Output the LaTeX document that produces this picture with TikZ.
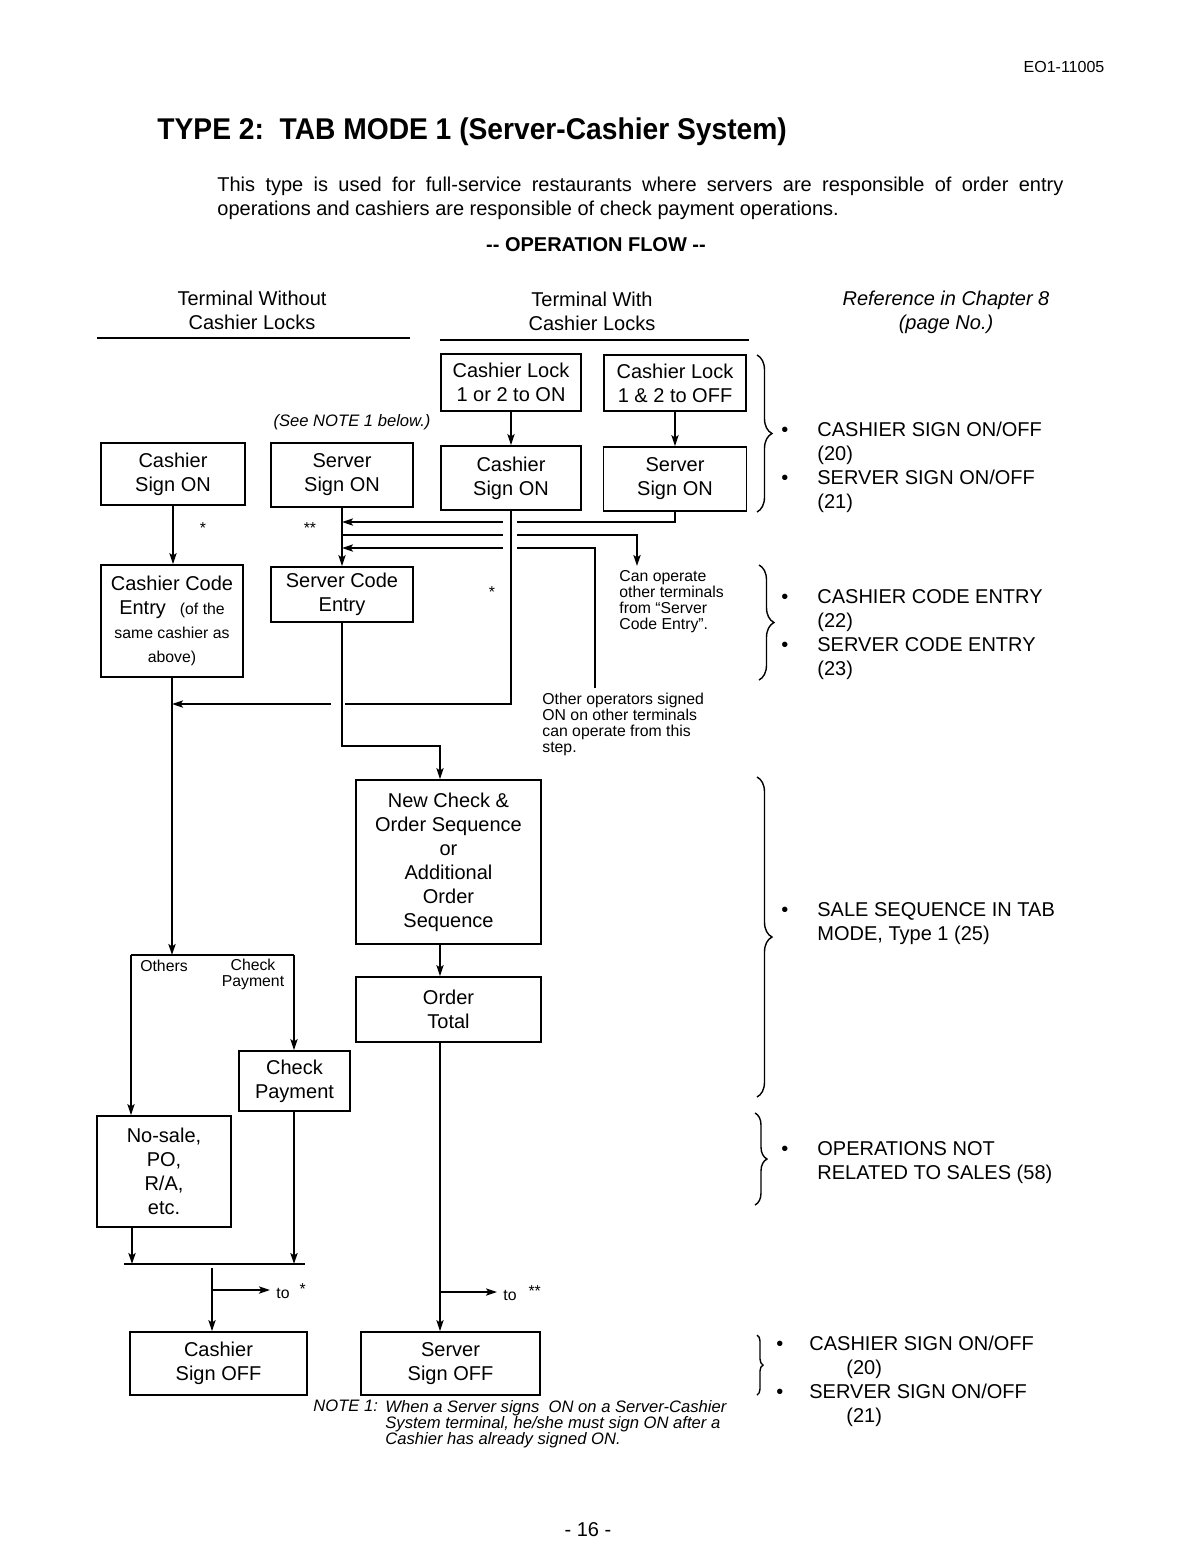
\documentclass[tikz,border=0pt]{standalone}
\usepackage{graphicx}
\usepackage{fontspec}
\setmainfont{Liberation Sans}
\usetikzlibrary{arrows.meta,decorations.pathreplacing}
\newcommand\fsn{\fontsize{10}{12}\selectfont}
\newcommand\fss{\fontsize{7.9}{8}\selectfont}
\newcommand\fsi{\fontsize{8.3}{8}\selectfont\itshape}
\begin{document}
\begin{tikzpicture}[x=0.5pt,y=-0.5pt,
  every node/.style={inner sep=0pt, font=\fsn},
  box/.style={draw, line width=0.9pt, align=center},
  conn/.style={line width=0.9pt},
  arr/.style={line width=0.9pt,-{Stealth[length=5.5pt,width=3.6pt,inset=1.2pt]}},
  brc/.style={decorate, decoration={brace,amplitude=#1}, line width=0.7pt},
  brc/.default=7.5pt,
  sm/.style={font=\fss},
]
\useasboundingbox (0,0) rectangle (1202,1560);

% ---------- header ----------
\node[font=\fontsize{8}{9}\selectfont] (docid) at (1064,67) {EO1-11005};
\node[anchor=west,font=\fontsize{15}{18}\selectfont\bfseries] (title) at (157,132) {\scalebox{0.94}[1]{TYPE 2:\ \ TAB MODE 1 (Server-Cashier System)}};
\node[anchor=west] (p1) at (217,186) {\makebox[423pt][s]{This type is used for full-service restaurants where servers are responsible of order entry}};
\node[anchor=west] (p2) at (217,210) {operations and cashiers are responsible of check payment operations.};
\node[font=\fsn\bfseries] (flow) at (596,245) {-{}- OPERATION FLOW -{}-};

% ---------- column headers ----------
\node[align=center] (h1) at (252,310) {Terminal Without\\Cashier Locks};
\node[align=center] (h2) at (592,311) {Terminal With\\Cashier Locks};
\node[align=center,font=\fsn\itshape] (h3) at (946,312) {Reference in Chapter 8\\(page No.)};
\draw[conn] (97,338) -- (410,338);
\draw[conn] (440,340) -- (749,340);

% ---------- boxes ----------
\node[box,minimum width=70pt,minimum height=28.5pt] (CL1) at (511,382.5) {Cashier Lock\\1 or 2 to ON};
\node[box,minimum width=71pt,minimum height=28pt] (CL2) at (675,383) {Cashier Lock\\1 \& 2 to OFF};
\node[box,minimum width=72pt,minimum height=31pt] (CS1) at (173,474) {Cashier\\Sign ON};
\node[box,minimum width=71pt,minimum height=32pt] (SS1) at (342,475) {Server\\Sign ON};
\node[box,minimum width=70pt,minimum height=32pt] (CS2) at (511,478) {Cashier\\Sign ON};
\node[box,minimum width=71.5pt,minimum height=32pt] (SS2) at (675,479) {Server\\Sign ON};
\node[box,minimum width=71pt,minimum height=56pt] (CCE) at (172,621) {Cashier Code\\Entry\hspace{7pt}{\fss (of the}\\{\fss same cashier as}\\{\fss above)}};
\node[box,minimum width=71pt,minimum height=27.5pt] (SCE) at (342,594.5) {Server Code\\Entry};
\node[box,minimum width=92.5pt,minimum height=82pt] (NC) at (448.5,862) {New Check \&\\Order Sequence\\or\\Additional\\Order\\Sequence};
\node[box,minimum width=92.5pt,minimum height=32.5pt] (OT) at (448.5,1009.5) {Order\\Total};
\node[box,minimum width=55.5pt,minimum height=30pt] (CP) at (294.5,1081) {Check\\Payment};
\node[box,minimum width=67pt,minimum height=55.5pt] (NS) at (164,1171.5) {No-sale,\\PO,\\R/A,\\etc.};
\node[box,minimum width=88.5pt,minimum height=31.5pt] (CSO) at (218.5,1363.5) {Cashier\\Sign OFF};
\node[box,minimum width=89.5pt,minimum height=31.5pt] (SSO) at (450.5,1363.5) {Server\\Sign OFF};

% ---------- small texts ----------
\node[font=\fsi] (seenote) at (352,422) {(See NOTE 1 below.)};
\node[sm] (st1) at (203,528) {*};
\node[sm] (st2) at (310,528) {**};
\node[sm] (st3) at (492,592) {*};
\node[anchor=north west,align=left,sm] (canop) at (619,570) {Can operate\\other terminals\\from “Server\\Code Entry”.};
\node[anchor=north west,align=left,sm] (othop) at (542,693) {Other operators signed\\ON on other terminals\\can operate from this\\step.};
\node[sm] (lbo) at (164,966) {Others};
\node[align=center,sm] (lbc) at (253,974) {Check\\Payment};
\node[anchor=west,sm] (to1) at (276,1291) {to\hspace{5pt}\raisebox{2pt}{*}};
\node[anchor=west,sm] (to2) at (503,1293) {to\hspace{6pt}\raisebox{2pt}{**}};
\node[anchor=north west,font=\fsi] (nlab) at (313,1399) {NOTE 1:};
\node[anchor=north west,align=left,font=\fsi] (note) at (385,1400) {When a Server signs\ \ ON on a Server-Cashier\\System terminal, he/she must sign ON after a\\Cashier has already signed ON.};
\node (pg) at (588,1530) {- 16 -};

% ---------- reference column ----------
\node[anchor=west,align=left] (r1) at (781,467) {\makebox[18pt][l]{•}CASHIER SIGN ON/OFF\\\hspace*{18pt}(20)\\\makebox[18pt][l]{•}SERVER SIGN ON/OFF\\\hspace*{18pt}(21)};
\node[anchor=west,align=left] (r2) at (781,635) {\makebox[18pt][l]{•}CASHIER CODE ENTRY\\\hspace*{18pt}(22)\\\makebox[18pt][l]{•}SERVER CODE ENTRY\\\hspace*{18pt}(23)};
\node[anchor=west,align=left] (r3) at (781,924) {\makebox[18pt][l]{•}SALE SEQUENCE IN TAB\\\hspace*{18pt}MODE, Type 1 (25)};
\node[anchor=west,align=left] (r4) at (781,1163) {\makebox[18pt][l]{•}OPERATIONS NOT\\\hspace*{18pt}RELATED TO SALES (58)};
\node[anchor=west,align=left] (r5) at (776,1381) {\makebox[16.5pt][l]{•}CASHIER SIGN ON/OFF\\\hspace*{35pt}(20)\\\makebox[16.5pt][l]{•}SERVER SIGN ON/OFF\\\hspace*{35pt}(21)};

\draw[brc] (757,355) -- (757,512);
\draw[brc] (759,565) -- (759,680);
\draw[brc] (757,777) -- (757,1097);
\draw[brc=6pt] (755,1113) -- (755,1205);
\draw[brc=3pt] (757,1335) -- (757,1395);

% ---------- helper coordinates ----------
\coordinate (r522) at (0,522);
\coordinate (r535) at (0,535);
\coordinate (r548) at (0,548);
\coordinate (r704) at (0,704);
\coordinate (r746) at (0,746);
\coordinate (r955) at (0,955);
\coordinate (r1264) at (0,1264);
\coordinate (x440) at (440,0);
\coordinate (x131) at (131,0);
\coordinate (x132) at (132,0);
\coordinate (x212) at (212,0);
\coordinate (g1l) at (503,522);
\coordinate (g1r) at (517,522);
\coordinate (g2l) at (503,535);
\coordinate (g2r) at (517,535);
\coordinate (g3l) at (503,548);
\coordinate (g3r) at (517,548);
\coordinate (g4l) at (331,704);
\coordinate (g4r) at (345,704);
\coordinate (k1) at (637,535);
\coordinate (k2) at (637,566);
\coordinate (o1) at (595,688);
\coordinate (o2) at (595,548);
\coordinate (bl) at (131,955);
\coordinate (br) at (294,955);
\coordinate (m1) at (124,1264);
\coordinate (m2) at (305,1264);
\coordinate (s1) at (212,1268);
\coordinate (t1) at (212,1290);
\coordinate (t2) at (270,1290);
\coordinate (u1) at (440,1292);
\coordinate (u2) at (497,1292);

% ---------- connectors ----------
\draw[arr] (CL1.south) -- (CS2.north);
\draw[arr] (CL2.south) -- (SS2.north);
\draw[arr] (CS1.south) -- (CS1.south |- CCE.north);
\draw[arr] (SS1.south) -- (SCE.north);

\draw[conn] (SS2.south) -- (SS2.south |- r522) -- (g1r);
\draw[arr] (g1l) -- (SS1.south |- r522);
\draw[conn] (SS1.south |- r535) -- (g2l);
\draw[arr] (g2r) -- (k1) -- (k2);
\draw[conn] (o1) -- (o2) -- (g3r);
\draw[arr] (g3l) -- (SS1.south |- r548);
\draw[conn] (CS2.south) -- (CS2.south |- r704) -- (g4r);
\draw[arr] (g4l) -- (CCE.south |- r704);
\draw[arr] (SCE.south) -- (SCE.south |- r746) -- (x440 |- r746) -- (NC.north -| x440);

\draw[arr] (CCE.south) -- (CCE.south |- r955);
\draw[conn] (bl) -- (br);
\draw[arr] (bl) -- (NS.north -| x131);
\draw[arr] (br) -- (CP.north -| br);

\draw[arr] (NC.south -| x440) -- (OT.north -| x440);
\draw[arr] (OT.south -| x440) -- (SSO.north -| x440);
\draw[arr] (u1) -- (u2);

\draw[arr] (NS.south -| x132) -- (x132 |- r1264);
\draw[arr] (CP.south -| br) -- (br |- r1264);
\draw[conn] (m1) -- (m2);
\draw[arr] (s1) -- (CSO.north -| x212);
\draw[arr] (t1) -- (t2);
\end{tikzpicture}
\end{document}
